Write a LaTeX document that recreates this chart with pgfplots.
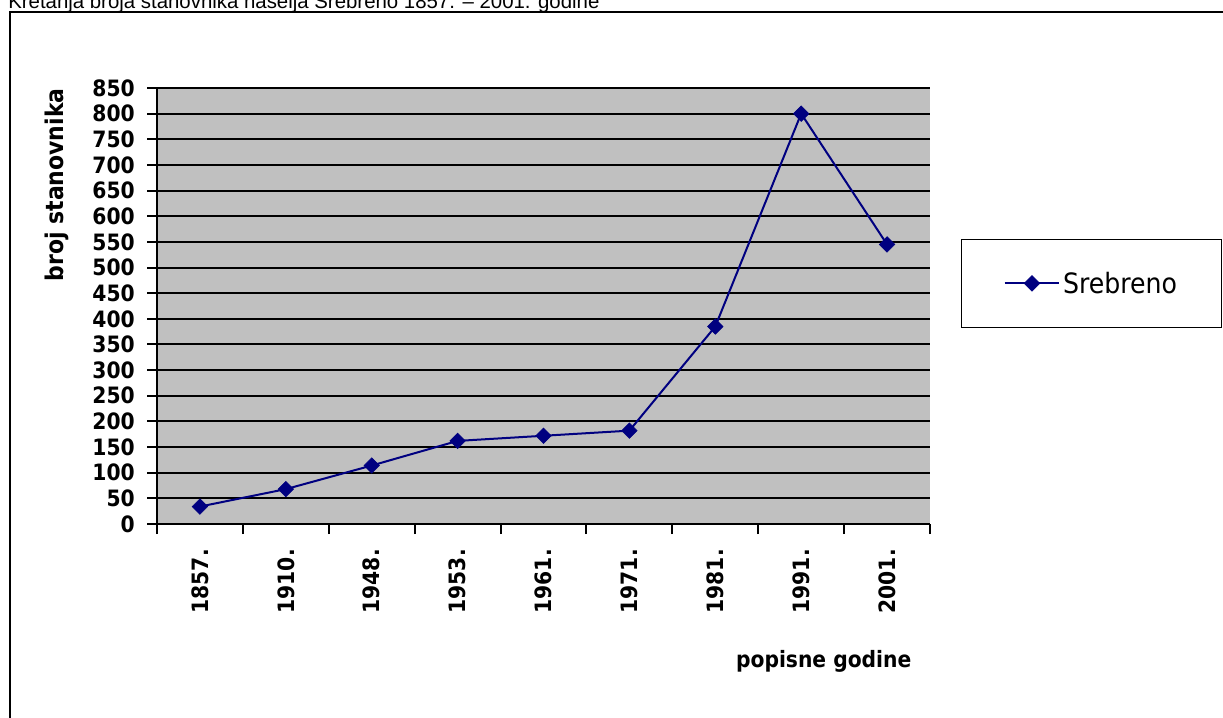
\documentclass[border=0pt]{standalone}
\usepackage{fontspec}
\setmainfont{DejaVu Sans Condensed}[BoldFont={DejaVu Sans Condensed Bold}]
\newfontfamily\titlefont{Liberation Sans}
\usepackage{pgfplots}
\pgfplotsset{compat=1.18}
\definecolor{navyx}{RGB}{0,0,128}
\definecolor{plotgray}{RGB}{192,192,192}
\begin{document}
\begin{tikzpicture}
\useasboundingbox (0,0) rectangle (917.25pt,537.75pt);
\clip (0,0) rectangle (917.25pt,537.75pt);
\fill[white] (0,0) rectangle (917.25pt,537.75pt);
\draw[line width=1.5pt] (7.5pt,-20pt) rectangle (950pt,528.75pt);
\node[anchor=base west, inner sep=0pt, font=\titlefont\fontsize{15.3}{18}\selectfont] at (6pt,531pt) {Kretanja broja stanovnika naselja Srebreno 1857. – 2001. godine};
\begin{axis}[
  at={(117.75pt,144.75pt)}, anchor=south west,
  scale only axis, width=579.75pt, height=327pt,
  xmin=-0.5, xmax=8.5, ymin=0, ymax=850,
  axis lines=left, axis line style={-, line width=1.5pt, black},
  axis background/.style={fill=plotgray},
  xtick={-0.5,0.5,...,8.5},
  x tick label as interval,
  xticklabels={1857.,1910.,1948.,1953.,1961.,1971.,1981.,1991.,2001.},
  ytick={0,50,...,850},
  /pgf/number format/assume math mode=true,
  ymajorgrids, grid style={black, line width=1.5pt},
  tick align=outside, major tick length=7.5pt,
  tick style={black, line width=1.5pt},
  tick label style={font=\bfseries\fontsize{16.9}{20}\selectfont},
  xticklabel style={rotate=90, anchor=east, inner sep=0pt},
  xticklabel shift=11.25pt,
  yticklabel style={anchor=east, inner sep=0pt},
  yticklabel shift=9pt,
  label style={font=\bfseries\fontsize{16.9}{20}\selectfont},
  ylabel={broj stanovnika},
  ylabel style={at={(axis description cs:-0.1216,0.778)}, anchor=base, rotate=0, font=\bfseries\fontsize{18.3}{22}\selectfont},
  xlabel={popisne godine},
  xlabel style={at={(axis description cs:0.8625,-0.3296)}, anchor=base},
  legend style={at={(axis description cs:1.0401,0.6537)}, anchor=north west,
    draw=black, line width=0.75pt, fill=white,
    font=\fontsize{21}{25}\selectfont, inner xsep=31.5pt, inner ysep=22.2pt,
    nodes={inner sep=2pt}},
  legend image code/.code={\draw[mark repeat=2,mark phase=2,#1] plot coordinates {(0pt,0pt) (20.6pt,0pt) (41.2pt,0pt)};},
]
\addplot[navyx, line width=1.5pt, mark=square*, mark size=4.1pt, mark options={rotate=45, solid, fill=navyx, line width=0.5pt}]
  coordinates {(0,34) (1,68) (2,114) (3,162) (4,172) (5,182) (6,385) (7,800) (8,545)};
\addlegendentry{Srebreno}
\end{axis}
\end{tikzpicture}
\end{document}
